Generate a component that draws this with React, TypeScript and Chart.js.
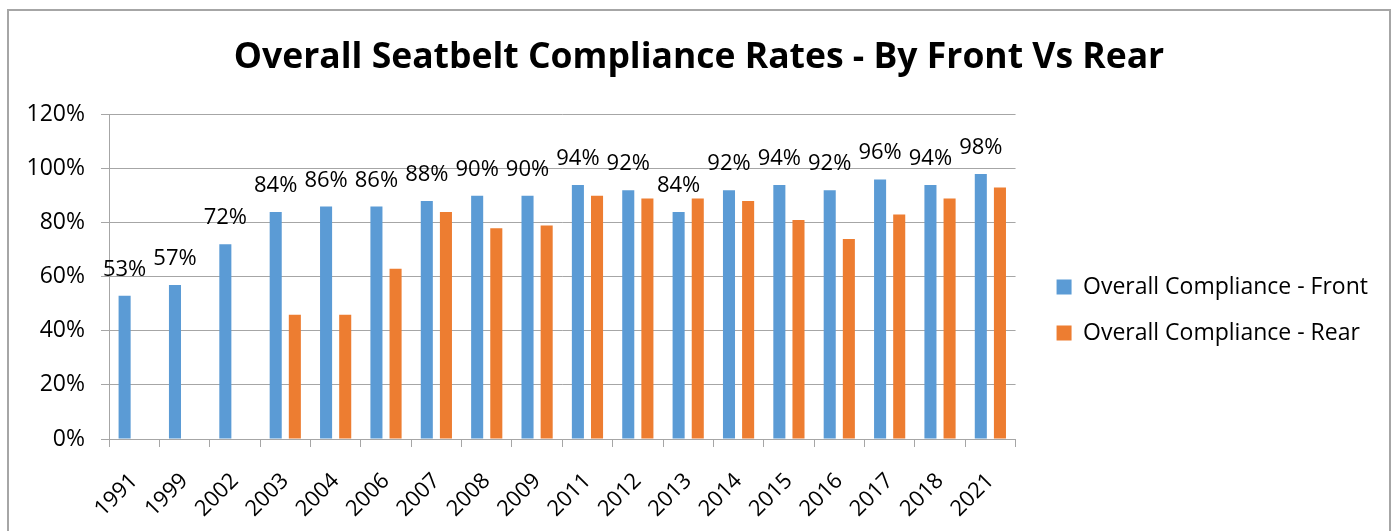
import React, { useEffect, useRef } from "react";
import { Chart, registerables } from "chart.js";

Chart.register(...registerables);

const years = ["1991","1999","2002","2003","2004","2006","2007","2008","2009","2011","2012","2013","2014","2015","2016","2017","2018","2021"];
const frontValues = [53,57,72,84,86,86,88,90,90,94,92,84,92,94,92,96,94,98];
const rearValues = [null,null,null,46,46,63,84,78,79,90,89,89,88,81,74,83,89,93];
const yTicks = [0,20,40,60,80,100,120];
const seriesNames = ["Overall Compliance - Front","Overall Compliance - Rear"];
const titleText = "Overall Seatbelt Compliance Rates - By Front Vs Rear";

const FONT = '"Open Sans", "DejaVu Sans", sans-serif';

const frameAndLabels = {
  id: "frameAndLabels",
  beforeDraw(chart: any) {
    const { ctx, width, height } = chart;
    ctx.save();
    ctx.fillStyle = "#ffffff";
    ctx.fillRect(0, 0, width, height);
    ctx.strokeStyle = "#A6A6A6";
    ctx.lineWidth = 2;
    ctx.strokeRect(8, 10, width - 16, height + 20);
    ctx.restore();
  },
  afterDatasetsDraw(chart: any) {
    const { ctx } = chart;
    const meta = chart.getDatasetMeta(0);
    const data = chart.data.datasets[0].data;
    ctx.save();
    ctx.font = `22px ${FONT}`;
    ctx.fillStyle = "#000000";
    ctx.textAlign = "center";
    ctx.textBaseline = "alphabetic";
    meta.data.forEach((bar: any, i: number) => {
      const v = data[i];
      if (v == null) return;
      ctx.fillText(`${v}%`, bar.x, bar.y - 20);
    });
    ctx.restore();
  },
};

export default function App() {
  const ref = useRef<HTMLCanvasElement>(null);
  useEffect(() => {
    document.body.style.margin = "0";
    const canvas = ref.current!;
    const chart = new Chart(canvas, {
      type: "bar",
      data: {
        labels: years,
        datasets: [
          { label: seriesNames[0], data: frontValues, backgroundColor: "#5B9BD5", categoryPercentage: 0.76, barPercentage: 0.63 },
          { label: seriesNames[1], data: rearValues as any, backgroundColor: "#ED7D31", categoryPercentage: 0.76, barPercentage: 0.63 },
        ],
      },
      options: {
        animation: false,
        responsive: false,
        maintainAspectRatio: false,
        layout: { padding: { left: 20, right: 20, top: 0, bottom: 0 } },
        plugins: {
          title: {
            display: true,
            text: titleText,
            color: "#000000",
            font: { family: FONT, size: 35.5, weight: "bold" },
            padding: { top: 37, bottom: 35 },
          },
          legend: {
            display: true,
            position: "right",
            align: "center",
            maxWidth: 420,
            title: { display: true, text: "", font: { size: 20 }, padding: { top: 32, bottom: 33 } },
            labels: {
              color: "#000000",
              font: { family: FONT, size: 23 },
              boxWidth: 15,
              boxHeight: 15,
              padding: 23,
            },
          },
          tooltip: { enabled: false },
        },
        scales: {
          x: {
            grid: { display: true, drawOnChartArea: false, offset: true, tickLength: 8, color: "#A6A6A6" },
            border: { display: true, color: "#A6A6A6" },
            ticks: {
              color: "#000000",
              font: { family: FONT, size: 22 },
              maxRotation: 45,
              minRotation: 45,
              padding: 21,
              autoSkip: false,
            },
            afterFit: (s: any) => { s.height = 92; },
          },
          y: {
            min: 0,
            max: 120,
            afterBuildTicks: (s: any) => { s.ticks = yTicks.map((v) => ({ value: v })); },
            grid: { color: "#A6A6A6", tickLength: 8 },
            border: { display: true, color: "#A6A6A6" },
            ticks: {
              color: "#000000",
              font: { family: FONT, size: 23 },
              padding: 16,
              callback: (v: any) => `${v}%`,
            },
            afterFit: (s: any) => { s.width = 89; },
          },
          yR: {
            position: "right",
            display: true,
            grid: { display: false },
            border: { display: false },
            ticks: { display: false },
            afterFit: (s: any) => { s.width = 18; },
          },
        },
      },
      plugins: [frameAndLabels],
    });
    return () => chart.destroy();
  }, []);
  return <canvas ref={ref} width={1398} height={531} style={{ display: "block", width: 1398, height: 531 }} />;
}
